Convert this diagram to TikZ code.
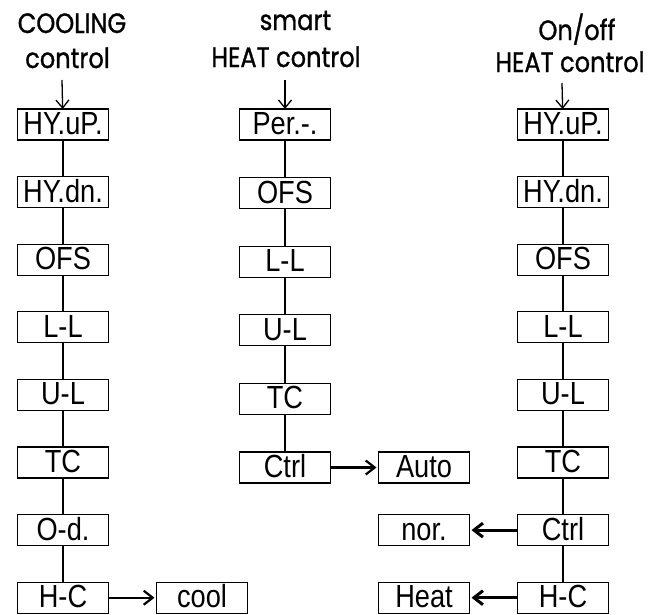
\documentclass[tikz,border=0pt]{standalone}
\usepackage{fontspec}
\setmainfont{Liberation Sans}
\newfontfamily\titlefont[FakeStretch=0.86,FakeBold=1]{Poppins}
\newfontfamily\boxfont[FakeStretch=0.85]{Liberation Sans}
\usetikzlibrary{arrows.meta,positioning}
\tikzset{
    menubox/.style={draw, line width=1.2pt, outer sep=0pt, minimum width=91pt, minimum height=31pt, inner sep=0pt, text height=22pt, text depth=2pt, font=\boxfont\fontsize{32}{36}\selectfont},
    linkline/.style={line width=1.3pt},
    entryarrow/.style={-{Straight Barb[length=8pt,width=13pt]}, line width=1.3pt},
    setarrow/.style={-{Straight Barb[length=9pt,width=14pt]}, line width=2.2pt, shorten >=2pt},
    heavyarrow/.style={setarrow, line width=3pt},
    titletext/.style={anchor=base, inner sep=0pt, font=\titlefont\fontsize{28}{32}\selectfont}
}

\begin{document}
\begin{tikzpicture}[x=1pt, y=-1pt, node distance=36.6pt]
    \useasboundingbox (0,0) rectangle (653,614);

    % titles
    \node[titletext] (coolTop) at (72,33) {COOLING};
    \node[titletext] (coolBot) at (67.5,68) {control};
    \node[titletext] (smartTop) at (295.5,30) {smart};
    \node[titletext] (smartBot) at (286,67) {HEAT control};
    \node[titletext] (onoffTop) at (577,40) {On/off};
    \node[titletext] (onoffBot) at (570,72) {HEAT control};

    % cooling control
    \node[menubox] (cHyUp) at (63,124.5) {HY.uP.};
    \node[menubox, below=of cHyUp] (cHyDn) {HY.dn.};
    \node[menubox, below=of cHyDn] (cOfs) {OFS};
    \node[menubox, below=of cOfs] (cLL) {L-L};
    \node[menubox, below=of cLL] (cUL) {U-L};
    \node[menubox, below=of cUL] (cTC) {TC};
    \node[menubox, below=of cTC] (cOd) {O-d.};
    \node[menubox, below=of cOd] (cHC) {H-C};
    \node[menubox, right=48pt of cHC] (cCool) {cool};

    % smart heat control
    \node[menubox] (sPer) at (285,124.5) {Per.-.};
    \node[menubox, below=37.6pt of sPer] (sOfs) {OFS};
    \node[menubox, below=37.6pt of sOfs] (sLL) {L-L};
    \node[menubox, below=37.6pt of sLL] (sUL) {U-L};
    \node[menubox, below=37.6pt of sUL] (sTC) {TC};
    \node[menubox, below=37.6pt of sTC] (sCtrl) {Ctrl};
    \node[menubox, right=48pt of sCtrl] (sAuto) {Auto};

    % on/off heat control
    \node[menubox] (oHyUp) at (563,124.5) {HY.uP.};
    \node[menubox, below=of oHyUp] (oHyDn) {HY.dn.};
    \node[menubox, below=of oHyDn] (oOfs) {OFS};
    \node[menubox, below=of oOfs] (oLL) {L-L};
    \node[menubox, below=of oLL] (oUL) {U-L};
    \node[menubox, below=of oUL] (oTC) {TC};
    \node[menubox, below=of oTC] (oCtrl) {Ctrl};
    \node[menubox, below=of oCtrl] (oHC) {H-C};
    \node[menubox, left=48pt of oCtrl] (oNor) {nor.};
    \node[menubox, left=48pt of oHC] (oHeat) {Heat};

    % entry arrows
    \coordinate (coolIn) at (62,80);
    \coordinate (smartIn) at (285,80);
    \coordinate (onoffIn) at (562,83);
    \draw[entryarrow] (coolIn) -- (cHyUp);
    \draw[entryarrow] (smartIn) -- (sPer);
    \draw[entryarrow] (onoffIn) -- (oHyUp);

    % chains
    \draw[linkline] (cHyUp) -- (cHyDn) -- (cOfs) -- (cLL) -- (cUL) -- (cTC) -- (cOd) -- (cHC);
    \draw[linkline] (sPer) -- (sOfs) -- (sLL) -- (sUL) -- (sTC) -- (sCtrl);
    \draw[linkline] (oHyUp) -- (oHyDn) -- (oOfs) -- (oLL) -- (oUL) -- (oTC) -- (oCtrl) -- (oHC);

    % settings
    \draw[setarrow] (cHC) -- (cCool);
    \draw[setarrow] (sCtrl) -- (sAuto);
    \draw[heavyarrow] (oCtrl) -- (oNor);
    \draw[heavyarrow] (oHC) -- (oHeat);
\end{tikzpicture}
\end{document}
